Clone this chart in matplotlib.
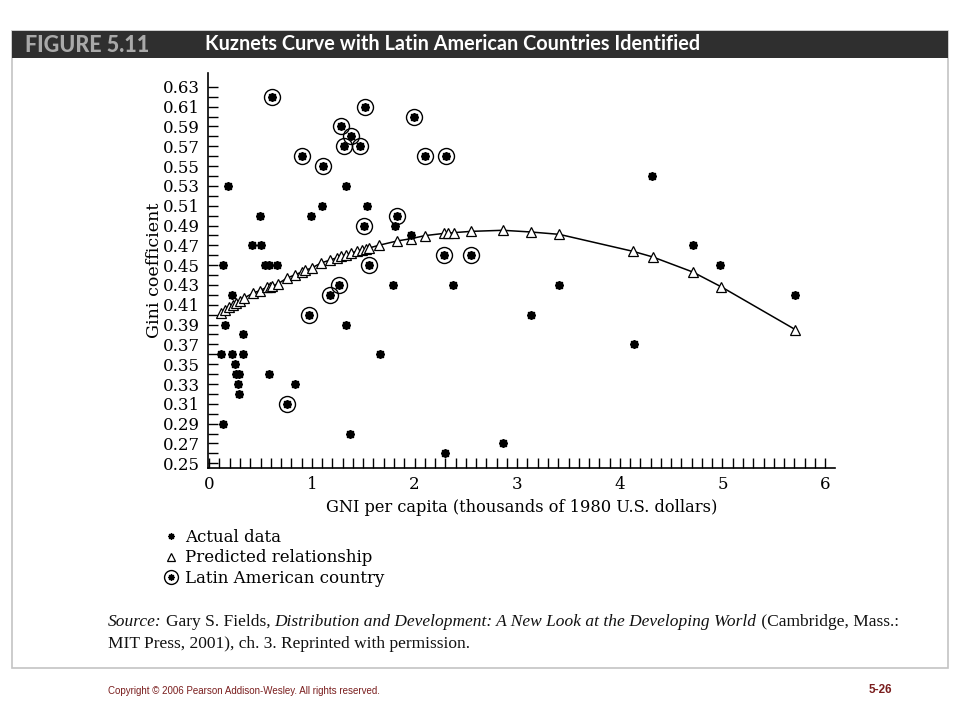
import matplotlib
matplotlib.use('Agg')
import matplotlib.pyplot as plt
from matplotlib.lines import Line2D
from matplotlib.patches import Rectangle
from matplotlib.legend_handler import HandlerTuple
from matplotlib.ticker import FixedLocator, NullFormatter

# ---------------- data ----------------
actual_x = [0.18, 1.33, 1.10, 1.54, 0.49, 0.99, 1.81, 1.97, 0.42, 0.50,
            0.13, 0.54, 0.58, 0.66, 0.22, 1.79, 2.37, 3.41, 0.15, 1.33,
            0.33, 0.11, 0.22, 0.33, 1.66, 0.25, 0.26, 0.29, 0.58, 0.28,
            0.84, 0.29, 0.13, 1.37, 2.86, 2.30, 3.13, 4.14, 4.31, 4.71,
            4.98, 5.71]
actual_y = [0.53, 0.53, 0.51, 0.51, 0.50, 0.50, 0.49, 0.48, 0.47, 0.47,
            0.45, 0.45, 0.45, 0.45, 0.42, 0.43, 0.43, 0.43, 0.39, 0.39,
            0.38, 0.36, 0.36, 0.36, 0.36, 0.35, 0.34, 0.34, 0.34, 0.33,
            0.33, 0.32, 0.29, 0.28, 0.27, 0.26, 0.40, 0.37, 0.54, 0.47,
            0.45, 0.42]

latin_x = [0.61, 1.52, 1.99, 1.28, 1.38, 1.31, 1.47, 0.90, 2.10, 2.31,
           1.11, 1.83, 1.51, 2.29, 2.55, 1.56, 1.26, 1.18, 0.97, 0.76]
latin_y = [0.62, 0.61, 0.60, 0.59, 0.58, 0.57, 0.57, 0.56, 0.56, 0.56,
           0.55, 0.50, 0.49, 0.46, 0.46, 0.45, 0.43, 0.42, 0.40, 0.31]

pred_x = [0.11, 0.15, 0.19, 0.23, 0.26, 0.30, 0.34, 0.43, 0.49, 0.56,
          0.59, 0.61, 0.67, 0.76, 0.84, 0.90, 0.93, 1.00, 1.09, 1.18,
          1.24, 1.28, 1.33, 1.38, 1.44, 1.49, 1.53, 1.56, 1.65, 1.83,
          1.97, 2.10, 2.29, 2.33, 2.38, 2.55, 2.86, 3.13, 3.41, 4.13,
          4.32, 4.71, 4.99, 5.71]
pred_y = [0.4017, 0.4051, 0.4074, 0.4098, 0.4118, 0.4141, 0.4169, 0.4219, 0.4242, 0.4276,
          0.4280, 0.4286, 0.4313, 0.4371, 0.4404, 0.4431, 0.4447, 0.4472, 0.4522, 0.4553,
          0.4573, 0.4589, 0.4606, 0.4623, 0.4639, 0.4657, 0.4667, 0.4674, 0.4700, 0.4744,
          0.4768, 0.4798, 0.4821, 0.4821, 0.4828, 0.4841, 0.4852, 0.4835, 0.4811, 0.4639,
          0.4583, 0.4431, 0.4280, 0.3849]

x_ticks = [0, 1, 2, 3, 4, 5, 6]
x_tick_labels = ['0', '1', '2', '3', '4', '5', '6']
y_ticks = [0.25, 0.27, 0.29, 0.31, 0.33, 0.35, 0.37, 0.39, 0.41, 0.43,
           0.45, 0.47, 0.49, 0.51, 0.53, 0.55, 0.57, 0.59, 0.61, 0.63]
y_tick_labels = ['0.25', '0.27', '0.29', '0.31', '0.33', '0.35', '0.37', '0.39', '0.41', '0.43',
                 '0.45', '0.47', '0.49', '0.51', '0.53', '0.55', '0.57', '0.59', '0.61', '0.63']
y_minor = [0.26, 0.28, 0.30, 0.32, 0.34, 0.36, 0.38, 0.40, 0.42, 0.44,
           0.46, 0.48, 0.50, 0.52, 0.54, 0.56, 0.58, 0.60, 0.62]
x_minor = [i / 10 for i in range(1, 61) if i % 10 != 0]

legend_labels = ['Actual data', 'Predicted relationship', 'Latin American country']

# ---------------- figure ----------------
W, H = 960, 720
fig = plt.figure(figsize=(9.6, 7.2), dpi=100)


def fx(px):
    return px / W


def fy(py):
    return 1 - py / H


# frame and header bar
fig.add_artist(Rectangle((fx(12), fy(668)), (948 - 12) / W, (668 - 31) / H,
                         transform=fig.transFigure, fill=False,
                         edgecolor='#c4c4c4', lw=1.2))
fig.add_artist(Rectangle((fx(12), fy(58)), (948 - 12) / W, (58 - 31) / H,
                         transform=fig.transFigure, facecolor='#2f2f2f',
                         edgecolor='none'))
fig.text(fx(25), fy(45), 'FIGURE 5.11', color='#a9a9a9', family='Lato',
         weight='black', fontsize=15.5, va='center', ha='left')
fig.text(fx(205), fy(44.5), 'Kuznets Curve with Latin American Countries Identified',
         color='white', family='Lato', weight='bold', fontsize=14.3,
         va='center', ha='left')

# axes
ax = fig.add_axes([fx(208), fy(468), (835 - 208) / W, (468 - 73) / H])
ax.set_xlim(-0.012, 6.096)
ax.set_ylim(0.2452, 0.644)
for s in ['top', 'right']:
    ax.spines[s].set_visible(False)
for s in ['left', 'bottom']:
    ax.spines[s].set_linewidth(1.2)

serif = 'DejaVu Serif'

ax.set_xticks(x_ticks)
ax.set_xticklabels(x_tick_labels, family=serif, fontsize=12)
ax.set_yticks(y_ticks)
ax.set_yticklabels(y_tick_labels, family=serif, fontsize=12)
ax.xaxis.set_minor_locator(FixedLocator(x_minor))
ax.yaxis.set_minor_locator(FixedLocator(y_minor))
ax.xaxis.set_minor_formatter(NullFormatter())
ax.yaxis.set_minor_formatter(NullFormatter())
ax.tick_params(axis='both', which='both', direction='in', length=7, width=1,
               color='black')
ax.tick_params(axis='x', which='major', pad=6)
ax.tick_params(axis='y', which='major', pad=6)

ax.set_xlabel('GNI per capita (thousands of 1980 U.S. dollars)', family=serif,
              fontsize=11.7, labelpad=4)
ax.set_ylabel('Gini coefficient', family=serif, fontsize=12.6, labelpad=0)

# predicted relationship
ax.plot(pred_x, pred_y, color='black', lw=1.1, zorder=2)
ax.plot(pred_x, pred_y, ls='none', marker='^', ms=6.8, mfc='white',
        mec='black', mew=0.9, zorder=3)

# actual data (stars)
all_x = actual_x + latin_x
all_y = actual_y + latin_y
ax.plot(all_x, all_y, ls='none', marker='s', ms=3.8, color='black', zorder=4)
ax.plot(all_x, all_y, ls='none', marker=(8, 2, 0), ms=6.3, mew=1.2,
        color='black', zorder=4)

# Latin American circles
ax.plot(latin_x, latin_y, ls='none', marker='o', ms=11.5, mfc='none',
        mec='black', mew=1.0, zorder=4)

# legend
star_sq = Line2D([], [], ls='none', marker='s', ms=2.6, color='black')
star_ln = Line2D([], [], ls='none', marker=(8, 2, 0), ms=4.5, mew=0.9, color='black')
tri = Line2D([], [], ls='none', marker='^', ms=5.5, mfc='white', mec='black', mew=0.9)
circ = Line2D([], [], ls='none', marker='o', ms=10, mfc='none', mec='black', mew=1.0)
fig.legend(handles=[(star_sq, star_ln), tri, (circ, star_sq, star_ln)],
           labels=legend_labels,
           handler_map={tuple: HandlerTuple(ndivide=1, pad=0)},
           loc='upper left', bbox_to_anchor=(fx(163), fy(529)),
           frameon=False, handlelength=1.0, handletextpad=0.3,
           labelspacing=0.2, borderpad=0.0, borderaxespad=0.0,
           prop={'family': serif, 'size': 12})

# source text
renderer = fig.canvas.get_renderer()
src_font = 'Liberation Serif'
src_size = 12.5


def rich_line(x_px, y_px, pieces):
    x = fx(x_px)
    for txt, style, gap in pieces:
        x += gap / W
        t = fig.text(x, fy(y_px), txt, family=src_font, style=style,
                     fontsize=src_size, va='center', ha='left', color='#111111')
        bb = t.get_window_extent(renderer)
        x += bb.width / W


rich_line(108, 622, [('Source:', 'italic', 0), ('Gary S. Fields, ', 'normal', 4),
                     ('Distribution and Development: A New Look at the Developing World', 'italic', 0),
                     (' (Cambridge, Mass.:', 'normal', 0)])
rich_line(108, 644, [('MIT Press, 2001), ch. 3. Reprinted with permission.', 'normal', 0)])

# footer
fig.text(fx(108), fy(691), 'Copyright \u00a9 2006 Pearson Addison-Wesley. All rights reserved.',
         family='Liberation Sans', fontsize=7.0, color='#7a1e1e', va='center', ha='left')
fig.text(fx(892), fy(690), '5-26', family='Liberation Sans', fontsize=8.5,
         weight='bold', color='#7a1e1e', va='center', ha='right')

fig.savefig('out.png', dpi=100)
